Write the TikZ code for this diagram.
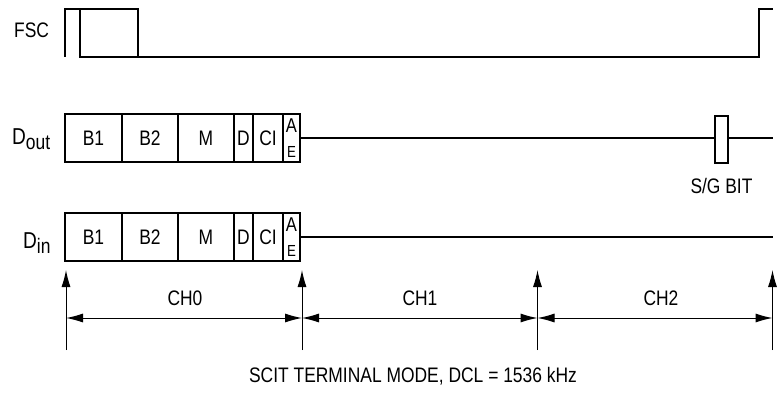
\documentclass[tikz,border=0pt]{standalone}
\usepackage{fontspec}
\setmainfont{Liberation Sans}[FakeStretch=0.83]
\usetikzlibrary{arrows.meta,positioning}

\begin{document}
\begin{tikzpicture}[x=1pt, y=-1pt, >={Latex[length=17pt,width=9pt]},
    font=\fontsize{21}{23}\selectfont,
    wave/.style={line width=2pt},
    cell/.style={draw, line width=2pt, minimum height=48pt, inner sep=0pt, outer sep=0pt, anchor=west},
    aecell/.style={cell, minimum width=17pt, align=center, font=\fontsize{20}{20}\selectfont},
    tick/.style={->, line width=1pt},
    span/.style={<->, line width=1pt},
    lbl/.style={anchor=base, inner sep=0pt}]
    \useasboundingbox (0,0) rectangle (777,396);

    % FSC
    \node[lbl, anchor=base west] (fsc) at (14,38) {FSC};
    \draw[wave] (65,57) -- (65,9) -- (138,9) -- (138,57);
    \draw[wave] (80,9) -- (80,57) -- (759,57) -- (759,9) -- (773,9);

    % D out
    \node[lbl, anchor=base west] (dout) at (12,144) {{\fontsize{23}{23}\selectfont D}\raisebox{-5pt}{out}};
    \node[cell, minimum width=57pt] (ob1) at (65,138) {B1};
    \node[cell, minimum width=56pt, right=0pt of ob1] (ob2) {B2};
    \node[cell, minimum width=56pt, right=0pt of ob2] (om) {M};
    \node[cell, minimum width=19pt, right=0pt of om] (od) {D};
    \node[cell, minimum width=30pt, right=0pt of od] (oci) {CI};
    \node[aecell, right=0pt of oci] (oae) {A\\[5pt]{\fontsize{16}{16}\selectfont E}};
    \node[draw, line width=2pt, minimum width=13pt, minimum height=47pt, inner sep=0pt, outer sep=0pt] (sg) at (721.5,139.5) {};
    \coordinate (oend) at (773,138);
    \draw[wave] (oae.east) -- (sg.west |- oae.east);
    \draw[wave] (sg.east |- oend) -- (oend);
    \node[lbl] (sgbit) at (721.5,193) {S/G BIT};

    % D in
    \node[lbl, anchor=base west] (din) at (23,248) {{\fontsize{23}{23}\selectfont D}\raisebox{-5pt}{in}};
    \node[cell, minimum width=57pt] (ib1) at (65,237) {B1};
    \node[cell, minimum width=56pt, right=0pt of ib1] (ib2) {B2};
    \node[cell, minimum width=56pt, right=0pt of ib2] (im) {M};
    \node[cell, minimum width=19pt, right=0pt of im] (id) {D};
    \node[cell, minimum width=30pt, right=0pt of id] (ici) {CI};
    \node[aecell, right=0pt of ici] (iae) {A\\[5pt]{\fontsize{16}{16}\selectfont E}};
    \coordinate (iend) at (773,237);
    \draw[wave] (iae.east) -- (iend);

    % channel timing
    \foreach \n/\x in {0/66, 1/302, 2/537.5, 3/772.5} {
        \coordinate (t\n) at (\x,350);
        \coordinate (a\n) at (\x,270);
        \coordinate (h\n) at (\x,318);
        \draw[tick] (t\n) -- (a\n);
    }
    \draw[span] (h0) -- (h1);
    \draw[span] (h1) -- (h2);
    \draw[span] (h2) -- (h3);
    \node[lbl] (ch0) at (185,305) {CH0};
    \node[lbl] (ch1) at (420,305) {CH1};
    \node[lbl] (ch2) at (661,305) {CH2};

    \node[lbl] (mode) at (413,382) {SCIT TERMINAL MODE, DCL = 1536 kHz};
\end{tikzpicture}
\end{document}
